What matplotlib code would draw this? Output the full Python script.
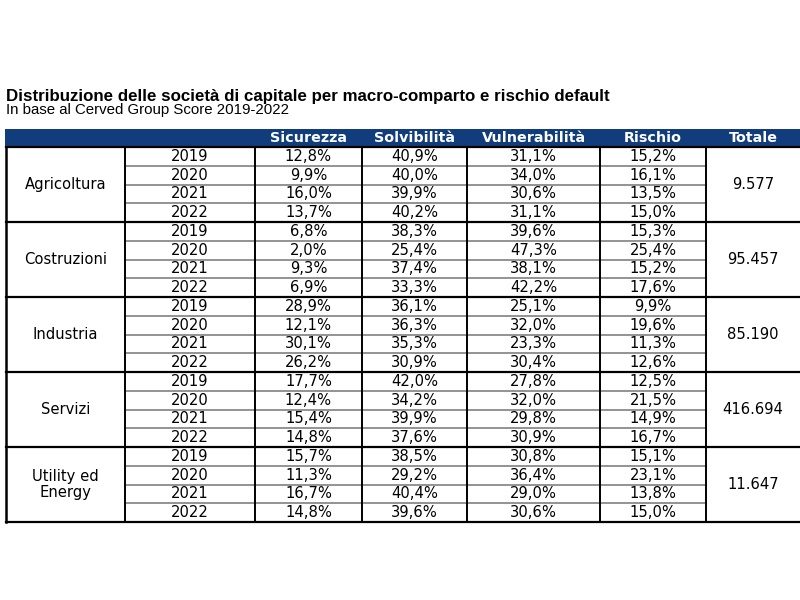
import matplotlib.pyplot as plt
from matplotlib.patches import Rectangle

title = "Distribuzione delle società di capitale per macro-comparto e rischio default"
subtitle = "In base al Cerved Group Score 2019-2022"

columns = ["Sicurezza", "Solvibilità", "Vulnerabilità", "Rischio", "Totale"]
sectors = ["Agricoltura", "Costruzioni", "Industria", "Servizi", "Utility ed\nEnergy"]
years = ["2019", "2020", "2021", "2022"]

sicurezza = [[12.8, 9.9, 16.0, 13.7], [6.8, 2.0, 9.3, 6.9], [28.9, 12.1, 30.1, 26.2],
             [17.7, 12.4, 15.4, 14.8], [15.7, 11.3, 16.7, 14.8]]
solvibilita = [[40.9, 40.0, 39.9, 40.2], [38.3, 25.4, 37.4, 33.3], [36.1, 36.3, 35.3, 30.9],
               [42.0, 34.2, 39.9, 37.6], [38.5, 29.2, 40.4, 39.6]]
vulnerabilita = [[31.1, 34.0, 30.6, 31.1], [39.6, 47.3, 38.1, 42.2], [25.1, 32.0, 23.3, 30.4],
                 [27.8, 32.0, 29.8, 30.9], [30.8, 36.4, 29.0, 30.6]]
rischio = [[15.2, 16.1, 13.5, 15.0], [15.3, 25.4, 15.2, 17.6], [9.9, 19.6, 11.3, 12.6],
           [12.5, 21.5, 14.9, 16.7], [15.1, 23.1, 13.8, 15.0]]
totale = ["9.577", "95.457", "85.190", "416.694", "11.647"]

navy = "#123d7c"
col_edges = [6, 125, 255, 362, 467, 600, 706, 800]
head_top, head_bot = 129, 147
group_h = 75

fig = plt.figure(figsize=(8, 6), dpi=100)
ax = fig.add_axes([0, 0, 1, 1])
ax.set_xlim(0, 800)
ax.set_ylim(600, 0)
ax.axis("off")

fig.text(6 / 800, 1 - 96 / 600, title, fontsize=12.15, fontweight="bold",
         family="Liberation Sans", va="center", ha="left")
fig.text(6 / 800, 1 - 110 / 600, subtitle, fontsize=10.8,
         family="Liberation Sans", va="center", ha="left")

# header band
ax.add_patch(Rectangle((col_edges[0] - 1, head_top), 800 - col_edges[0] + 1, head_bot - head_top,
                       facecolor=navy, edgecolor="none"))
for i, c in enumerate(columns):
    xc = (col_edges[i + 2] + col_edges[i + 3]) / 2
    ax.text(xc, (head_top + head_bot) / 2 + 0.5, c, color="white", fontsize=10.3,
            fontweight="bold", ha="center", va="center", family="DejaVu Sans")

cells = [sicurezza, solvibilita, vulnerabilita, rischio]
fmt = lambda v: f"{v:.1f}%".replace(".", ",")
fs = 10.6
for g, sec in enumerate(sectors):
    y0 = head_bot + g * group_h
    rh = group_h / 4
    ax.text((col_edges[0] + col_edges[1]) / 2, y0 + group_h / 2, sec, fontsize=fs,
            ha="center", va="center", linespacing=1.05)
    ax.text((col_edges[6] + col_edges[7]) / 2, y0 + group_h / 2, totale[g], fontsize=fs,
            ha="center", va="center")
    for r, yr in enumerate(years):
        yc = y0 + rh * (r + 0.5)
        ax.text((col_edges[1] + col_edges[2]) / 2, yc, yr, fontsize=fs, ha="center", va="center")
        for k in range(4):
            ax.text((col_edges[k + 2] + col_edges[k + 3]) / 2, yc, fmt(cells[k][g][r]),
                    fontsize=fs, ha="center", va="center")
        if r > 0:
            ax.plot([col_edges[1], col_edges[6]], [y0 + rh * r] * 2, color="#8a8a8a", lw=1.3)
    ax.plot([col_edges[0], 800], [y0, y0], color="black", lw=1.6)

bottom = head_bot + 5 * group_h
ax.plot([col_edges[0], 800], [bottom, bottom], color="black", lw=1.6)
for x in col_edges[:-1]:
    ax.plot([x, x], [head_bot, bottom], color="black", lw=1.4 if x != col_edges[0] else 1.8)

fig.savefig("out.png", dpi=100)
